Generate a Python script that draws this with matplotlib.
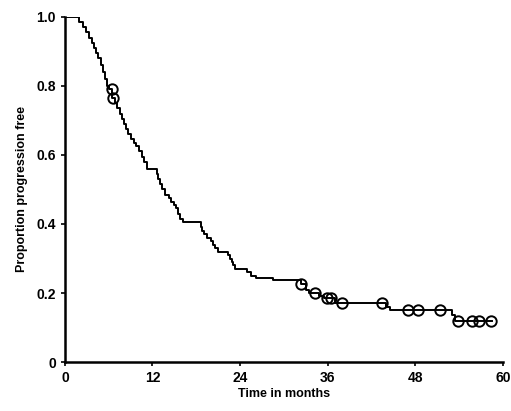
import numpy as np
import matplotlib.pyplot as plt

# Kaplan-Meier steps (months, proportion free)
event_times = [0, 2.0, 2.5, 2.9, 3.3, 3.7, 4.0, 4.3, 4.6, 4.9, 5.2, 5.5, 5.8,
               6.1, 6.5, 6.9, 7.2, 7.5, 7.8, 8.1, 8.4, 8.7, 9.0, 9.4, 9.8,
               10.2, 10.6, 10.9, 11.2, 12.6, 12.8, 13.0, 13.3, 13.7, 14.2,
               14.6, 14.9, 15.2, 15.5, 15.8, 16.2, 18.6, 18.8, 19.0, 19.5,
               20.0, 20.3, 20.6, 21.0, 22.3, 22.6, 22.9, 23.1, 23.3, 25.0,
               25.5, 26.2, 28.5, 32.3, 33.0, 33.5, 34.8, 35.5, 37.0, 44.0,
               44.5, 53.1, 53.5]
surv = [1.0, 0.985, 0.97, 0.955, 0.94, 0.925, 0.91, 0.895, 0.88, 0.86, 0.84,
        0.82, 0.80, 0.79, 0.765, 0.75, 0.735, 0.72, 0.705, 0.69, 0.675, 0.66,
        0.645, 0.635, 0.625, 0.61, 0.595, 0.58, 0.56, 0.545, 0.53, 0.515,
        0.50, 0.485, 0.475, 0.465, 0.455, 0.445, 0.43, 0.415, 0.405, 0.39,
        0.38, 0.37, 0.36, 0.35, 0.34, 0.33, 0.32, 0.31, 0.30, 0.29, 0.28,
        0.27, 0.26, 0.25, 0.245, 0.238, 0.225, 0.21, 0.20, 0.19, 0.186,
        0.172, 0.16, 0.15, 0.135, 0.12]
end_time = 58.5
censor_times = [6.4, 6.6, 32.4, 34.2, 35.9, 36.5, 37.9, 43.4, 47.0, 48.4,
                51.4, 53.8, 55.8, 56.8, 58.4]

x_ticks = [0, 12, 24, 36, 48, 60]
y_ticks = [0, 0.2, 0.4, 0.6, 0.8, 1.0]
y_ticklabels = ['0', '0.2', '0.4', '0.6', '0.8', '1.0']

plt.rcParams['font.family'] = ['Liberation Sans', 'DejaVu Sans']

fig = plt.figure(figsize=(5.11, 4.11), dpi=100)
ax = fig.add_axes([0.127, 0.119, 0.857, 0.840])

t = np.array(event_times + [end_time])
s = np.array(surv + [surv[-1]])
ax.step(t, s, where='post', color='black', lw=1.4)

# censor marks sit on the curve
idx = np.searchsorted(np.array(event_times), censor_times, side='right') - 1
cy = np.array(surv)[idx]
ax.plot(censor_times, cy, 'o', mfc='none', mec='black', ms=7.5, mew=1.4)

ax.set_xlim(0, 60)
ax.set_ylim(0, 1.0)
ax.set_xticks(x_ticks)
ax.set_yticks(y_ticks)
ax.set_yticklabels(y_ticklabels)
for sp in ['top', 'right']:
    ax.spines[sp].set_visible(False)
for sp in ['left', 'bottom']:
    ax.spines[sp].set_linewidth(1.8)
ax.tick_params(direction='out', length=3, width=1.2, labelsize=10)
for lab in ax.get_xticklabels() + ax.get_yticklabels():
    lab.set_fontweight('bold')

ax.set_xlabel('Time in months', fontsize=9, fontweight='bold', labelpad=2)
ax.set_ylabel('Proportion progression free', fontsize=9, fontweight='bold', labelpad=6)

fig.savefig('out.png', dpi=100)
